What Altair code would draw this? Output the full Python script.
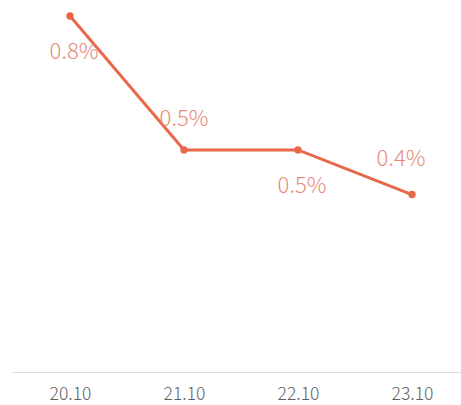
import altair as alt
import pandas as pd

# Year-on-year change by period
periods = ["20.10", "21.10", "22.10", "23.10"]
values = [0.8, 0.5, 0.5, 0.4]
labels = ["0.8%", "0.5%", "0.5%", "0.4%"]

# label placement around each point (dx, dy)
label_offsets = [(4, 36), (0, -31), (4, 36), (-11, -36)]

df = pd.DataFrame({"period": periods, "value": values, "label": labels})

LINE = "#e8694a"
TEXT = "#e68a78"
FONT = "Noto Sans CJK SC"
W, H = 448, 373

x = alt.X(
    "period:O",
    sort=periods,
    scale=alt.Scale(type="point", range=[57, 399], padding=0),
    axis=alt.Axis(
        title=None, domain=False, ticks=False, grid=False, labelAngle=0,
        labelFont=FONT, labelFontSize=17.5, labelFontWeight=300, labelColor="#5e5e5e",
        labelPadding=21, labelBaseline="middle",
    ),
)
y = alt.Y("value:Q", scale=alt.Scale(domain=[0, 0.836], nice=False, zero=True), axis=None)

base = alt.Chart(df)

baseline = base.mark_rule(color="#dcdcdc", strokeWidth=1).encode(
    x=alt.value(0), x2=alt.value(W), y=alt.value(H - 0.5)
)

line = base.mark_line(color=LINE, strokeWidth=3).encode(x=x, y=y)
points = base.mark_point(filled=True, color=LINE, size=55, opacity=1).encode(x=x, y=y)

texts = []
for p, (dx, dy) in zip(periods, label_offsets):
    texts.append(
        base.transform_filter(alt.datum.period == p).mark_text(
            font=FONT, fontSize=22, fontWeight=300, color=TEXT,
            dx=dx, dy=dy, align="center", baseline="middle",
        ).encode(x=x, y=y, text="label:N")
    )

chart = alt.layer(line, points, *texts, baseline).properties(
    width=W, height=H,
    autosize=alt.AutoSizeParams(type="none"),
    padding={"left": 13, "top": 0, "right": 0, "bottom": 32},
    background="white",
).configure_view(stroke=None)

chart.save("out.html", embed_options={"renderer": "svg", "actions": False})
